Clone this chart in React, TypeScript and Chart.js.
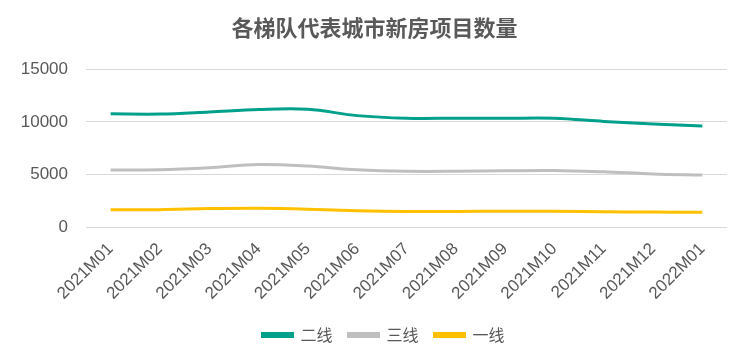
import React, { useEffect, useRef } from "react";
import { Chart, registerables } from "chart.js";

Chart.register(...registerables);

const categories = [
  "2021M01", "2021M02", "2021M03", "2021M04", "2021M05", "2021M06", "2021M07",
  "2021M08", "2021M09", "2021M10", "2021M11", "2021M12", "2022M01",
];
const tier2 = [10770, 10750, 10950, 11180, 11200, 10600, 10350, 10350, 10350, 10350, 10050, 9800, 9620];
const tier3 = [5420, 5450, 5650, 5950, 5800, 5450, 5300, 5300, 5350, 5380, 5250, 5050, 4940];
const tier1 = [1650, 1650, 1750, 1780, 1700, 1550, 1480, 1480, 1500, 1500, 1450, 1420, 1400];
const yTicks = [0, 5000, 10000, 15000];

const shiftPlugin = {
  id: "shiftBoxes",
  afterLayout(chart: any) {
    const lg = chart.legend;
    if (lg) {
      lg.left += 20;
      lg.right += 20;
    }
    const tt = chart.titleBlock;
    if (tt) {
      tt.left += 11;
      tt.right += 11;
    }
  },
};

export default function App() {
  const ref = useRef<HTMLCanvasElement | null>(null);
  useEffect(() => {
    document.body.style.margin = "0";
    const ctx = ref.current!;
    const textColor = "#595959";
    const font = "'Liberation Sans', 'Noto Sans CJK SC', sans-serif";
    const chart = new Chart(ctx, {
      type: "line",
      data: {
        labels: categories,
        datasets: [
          { label: "二线", data: tier2, borderColor: "#00a08a", backgroundColor: "#00a08a" },
          { label: "三线", data: tier3, borderColor: "#bfbfbf", backgroundColor: "#bfbfbf" },
          { label: "一线", data: tier1, borderColor: "#ffc000", backgroundColor: "#ffc000" },
        ].map((d) => ({ ...d, borderWidth: 3, pointRadius: 0, tension: 0.35, fill: false })),
      },
      options: {
        animation: false,
        responsive: false,
        maintainAspectRatio: false,
        layout: { padding: { left: 0, right: 18, top: 3, bottom: 9 } },
        plugins: {
          title: {
            display: true,
            text: "各梯队代表城市新房项目数量",
            color: textColor,
            font: { family: "'Noto Sans CJK SC', sans-serif", size: 22, weight: "bold" },
            padding: { top: 11, bottom: 29 },
          },
          legend: {
            position: "bottom",
            labels: {
              color: textColor,
              font: { family: "'Noto Sans CJK SC', sans-serif", size: 16 },
              boxWidth: 30,
              boxHeight: 3,
              padding: 16,
            },
          },
          tooltip: { enabled: false },
        },
        scales: {
          x: {
            offset: true,
            grid: { display: false },
            border: { display: false },
            afterFit: (axis: any) => {
              axis.height = 84;
            },
            ticks: {
              color: textColor,
              font: { family: font, size: 17 },
              maxRotation: 45,
              minRotation: 45,
              autoSkip: false,
              padding: 4,
            },
          },
          y: {
            min: 0,
            max: 15000,
            afterFit: (axis: any) => {
              axis.width = 86;
            },
            afterBuildTicks: (axis: any) => {
              axis.ticks = yTicks.map((v) => ({ value: v }));
            },
            grid: { color: "#d9d9d9", drawTicks: false, lineWidth: 1 },
            border: { display: false },
            ticks: {
              color: textColor,
              font: { family: font, size: 17 },
              padding: 18,
              callback: (v: any) => String(v),
            },
          },
        },
      },
      plugins: [shiftPlugin],
    });
    return () => chart.destroy();
  }, []);
  return (
    <div style={{ width: 745, height: 362, background: "#fff" }}>
      <canvas ref={ref} width={745} height={362} />
    </div>
  );
}
